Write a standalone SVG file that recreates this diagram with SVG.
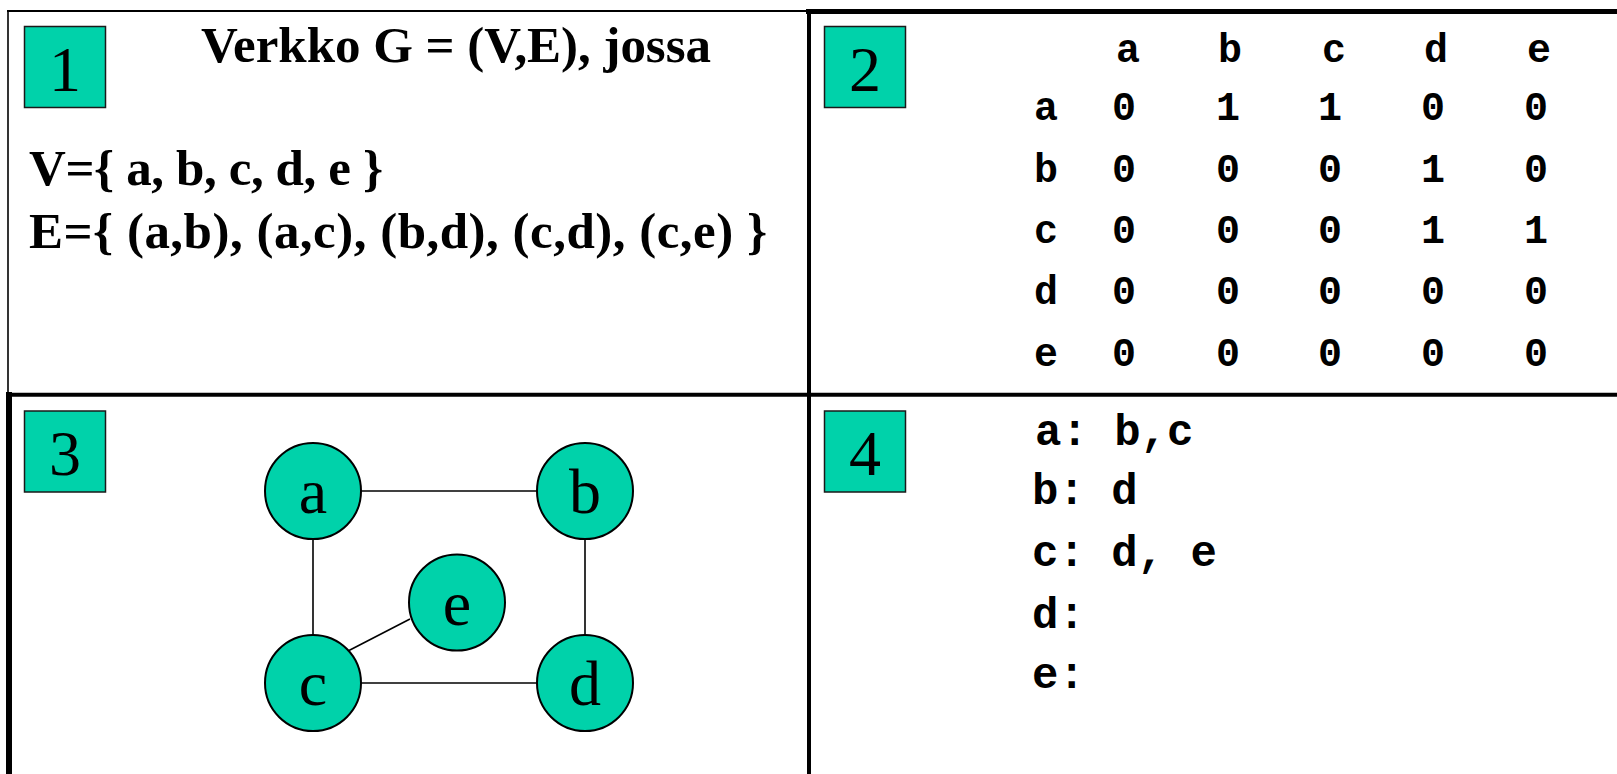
<svg xmlns="http://www.w3.org/2000/svg" width="1617" height="774" viewBox="0 0 1617 774">
<style>
.bg{fill:#ffffff}
.ln{stroke:#000;fill:none}
.tag{fill:#00D2AA;stroke:#1a1a1a;stroke-width:1.5}
.num{font-family:"Liberation Serif","Times New Roman",serif;font-size:64px;fill:#000;text-anchor:middle}
.ser{font-family:"Liberation Serif","Times New Roman",serif;font-weight:bold;font-size:51px;fill:#000}
.mono{font-family:"Liberation Mono","Courier New",monospace;font-weight:bold;font-size:40px;fill:#000;text-anchor:middle}
.list{font-family:"Liberation Mono","Courier New",monospace;font-weight:bold;font-size:44px;fill:#000}
.node{fill:#00D2AA;stroke:#000;stroke-width:2}
.nlabel{font-family:"Liberation Serif","Times New Roman",serif;font-size:64px;fill:#000;text-anchor:middle}
.edge{stroke:#000;stroke-width:1.6;fill:none}
</style>
<rect class="bg" x="0" y="0" width="1617" height="774"/>
<g id="frame">
<line class="ln" x1="7" y1="11" x2="808" y2="11" stroke-width="2"/>
<line class="ln" x1="806" y1="11.5" x2="1617" y2="11.5" stroke-width="5"/>
<line class="ln" x1="8" y1="10" x2="8" y2="394" stroke-width="1.6"/>
<line class="ln" x1="9" y1="392" x2="9" y2="774" stroke-width="6"/>
<line class="ln" x1="809" y1="9" x2="809" y2="774" stroke-width="4"/>
<line class="ln" x1="6" y1="394.7" x2="1617" y2="394.7" stroke-width="4"/>
</g>
<g id="panel1">
<rect class="tag" x="24.5" y="26.5" width="81" height="81"/>
<text class="num" x="65" y="91">1</text>
<text class="ser" x="201" y="62" textLength="510" lengthAdjust="spacing">Verkko G = (V,E), jossa</text>
<text class="ser" x="29" y="185" textLength="354" lengthAdjust="spacing">V={ a, b, c, d, e }</text>
<text class="ser" x="29" y="248" textLength="738" lengthAdjust="spacing">E={ (a,b), (a,c), (b,d), (c,d), (c,e) }</text>
</g>
<g id="panel2">
<rect class="tag" x="824.5" y="26.5" width="81" height="81"/>
<text class="num" x="865" y="91">2</text>
<g id="matrix-header">
<text class="mono" x="1128" y="62">a</text>
<text class="mono" x="1230" y="62">b</text>
<text class="mono" x="1334" y="62">c</text>
<text class="mono" x="1436" y="62">d</text>
<text class="mono" x="1539" y="62">e</text>
</g>
<g id="matrix-rows">
<text class="mono" x="1046" y="120">a</text>
<text class="mono" x="1124" y="120">0</text><text class="mono" x="1228" y="120">1</text><text class="mono" x="1330" y="120">1</text><text class="mono" x="1433" y="120">0</text><text class="mono" x="1536" y="120">0</text>
<text class="mono" x="1046" y="182">b</text>
<text class="mono" x="1124" y="182">0</text><text class="mono" x="1228" y="182">0</text><text class="mono" x="1330" y="182">0</text><text class="mono" x="1433" y="182">1</text><text class="mono" x="1536" y="182">0</text>
<text class="mono" x="1046" y="243">c</text>
<text class="mono" x="1124" y="243">0</text><text class="mono" x="1228" y="243">0</text><text class="mono" x="1330" y="243">0</text><text class="mono" x="1433" y="243">1</text><text class="mono" x="1536" y="243">1</text>
<text class="mono" x="1046" y="304">d</text>
<text class="mono" x="1124" y="304">0</text><text class="mono" x="1228" y="304">0</text><text class="mono" x="1330" y="304">0</text><text class="mono" x="1433" y="304">0</text><text class="mono" x="1536" y="304">0</text>
<text class="mono" x="1046" y="366">e</text>
<text class="mono" x="1124" y="366">0</text><text class="mono" x="1228" y="366">0</text><text class="mono" x="1330" y="366">0</text><text class="mono" x="1433" y="366">0</text><text class="mono" x="1536" y="366">0</text>
</g>
</g>
<g id="panel3">
<rect class="tag" x="24.5" y="411" width="81" height="81"/>
<text class="num" x="65" y="475">3</text>
<g id="connectors">
<line class="edge" x1="361" y1="491" x2="537" y2="491"/>
<line class="edge" x1="313" y1="539" x2="313" y2="635"/>
<line class="edge" x1="585" y1="539" x2="585" y2="635"/>
<line class="edge" x1="361" y1="683" x2="537" y2="683"/>
<line class="edge" x1="348" y1="651" x2="410" y2="619"/>
</g>
<g id="node-a"><circle class="node" cx="313" cy="491" r="48"/><text class="nlabel" x="313" y="513">a</text></g>
<g id="node-b"><circle class="node" cx="585" cy="491" r="48"/><text class="nlabel" x="585" y="513">b</text></g>
<g id="node-e"><circle class="node" cx="457" cy="602.5" r="48"/><text class="nlabel" x="457" y="625">e</text></g>
<g id="node-c"><circle class="node" cx="313" cy="683" r="48"/><text class="nlabel" x="313" y="705">c</text></g>
<g id="node-d"><circle class="node" cx="585" cy="683" r="48"/><text class="nlabel" x="585" y="705">d</text></g>
</g>
<g id="panel4">
<rect class="tag" x="824.5" y="411" width="81" height="81"/>
<text class="num" x="865" y="475">4</text>
<text class="list" x="1035" y="445">a: b,c</text>
<text class="list" x="1032" y="504">b: d</text>
<text class="list" x="1032" y="566">c: d, e</text>
<text class="list" x="1032" y="628">d:</text>
<text class="list" x="1032" y="688">e:</text>
</g>
</svg>
